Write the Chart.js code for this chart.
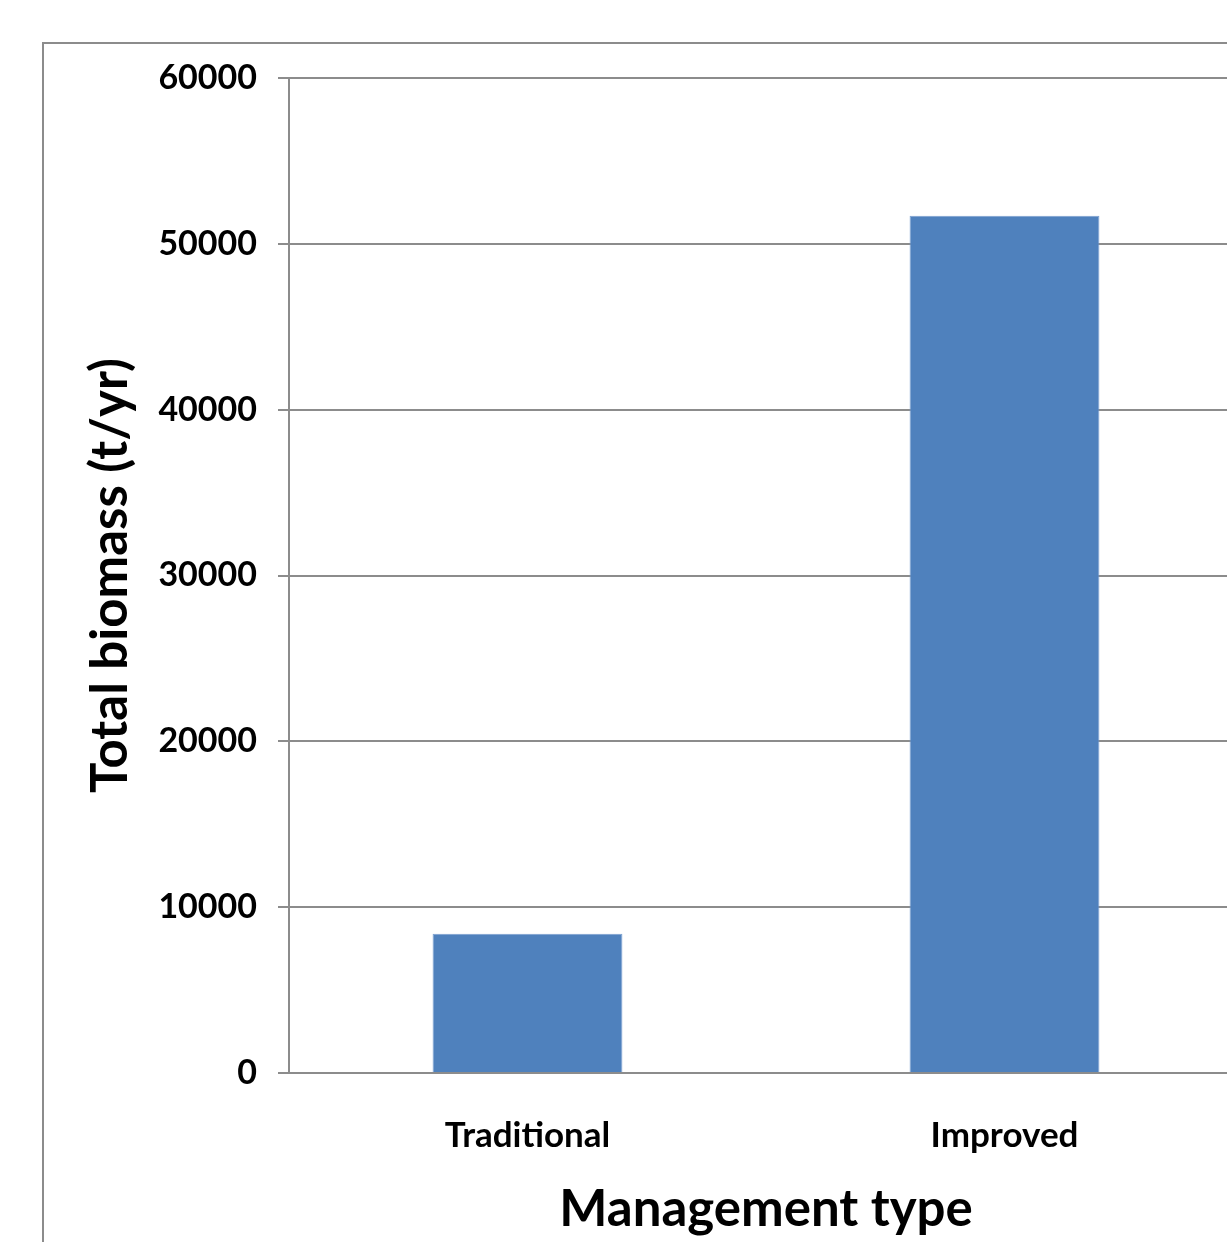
<!DOCTYPE html>
<html>
<head>
<meta charset="utf-8">
<style>
  html, body { margin: 0; padding: 0; background: #fff; overflow: hidden; }
  #wrap { position: relative; width: 1227px; height: 1242px; overflow: hidden; }
  #frame { position: absolute; left: 42px; top: 42px; width: 1400px; height: 1400px;
           border: 2px solid #8c8c8c; box-sizing: border-box; }
  #c { position: absolute; left: 0; top: 0; }
</style>
<script src="https://cdn.jsdelivr.net/npm/chart.js@4/dist/chart.umd.min.js"></script>
</head>
<body>
<div id="wrap">
  <div id="frame"></div>
  <canvas id="c" width="1300" height="1242"></canvas>
</div>
<script>
// Annual biomass output by management type
const categories = ['Traditional', 'Improved'];
const biomass = [8400, 51700];
const yTicks = [0, 10000, 20000, 30000, 40000, 50000, 60000];

const FONT = 'Lato, "Open Sans", sans-serif';
const AXIS_GREY = '#8c8c8c';

new Chart(document.getElementById('c'), {
  type: 'bar',
  data: {
    labels: categories,
    datasets: [{
      label: 'Total biomass',
      data: biomass,
      backgroundColor: '#4f81bd',
      borderColor: '#7a9fd0',
      borderWidth: 1,
      barPercentage: 1,
      categoryPercentage: 0.398
    }]
  },
  options: {
    responsive: false,
    animation: false,
    layout: { padding: { left: 80, top: 78, right: 57, bottom: 0 } },
    plugins: { legend: { display: false }, tooltip: { enabled: false } },
    scales: {
      x: {
        grid: { display: false },
        border: { display: true, color: AXIS_GREY, width: 2 },
        ticks: {
          color: '#000', padding: 34,
          font: { family: FONT, size: 35, weight: 'bold' }
        },
        title: {
          display: true, text: 'Management type', color: '#000',
          font: { family: FONT, size: 51, weight: 'bold' },
          padding: { top: 0, bottom: 2 }
        },
        afterFit(scale) { scale.height = 169; }
      },
      y: {
        min: 0, max: 60000,
        afterBuildTicks(scale) { scale.ticks = yTicks.map(v => ({ value: v })); },
        grid: { color: AXIS_GREY, lineWidth: 2, drawTicks: true, tickLength: 11 },
        border: { display: true, color: AXIS_GREY, width: 2 },
        ticks: {
          color: '#000', padding: 21,
          font: { family: FONT, size: 34, weight: 'bold' },
          callback: v => String(v)
        },
        title: {
          display: true, text: 'Total biomass (t/yr)', color: '#000',
          font: { family: FONT, size: 51, weight: 'bold' },
          padding: { top: 0, bottom: 0 }
        },
        afterFit(scale) { scale.width = 209; }
      }
    }
  }
});
</script>
</body>
</html>
